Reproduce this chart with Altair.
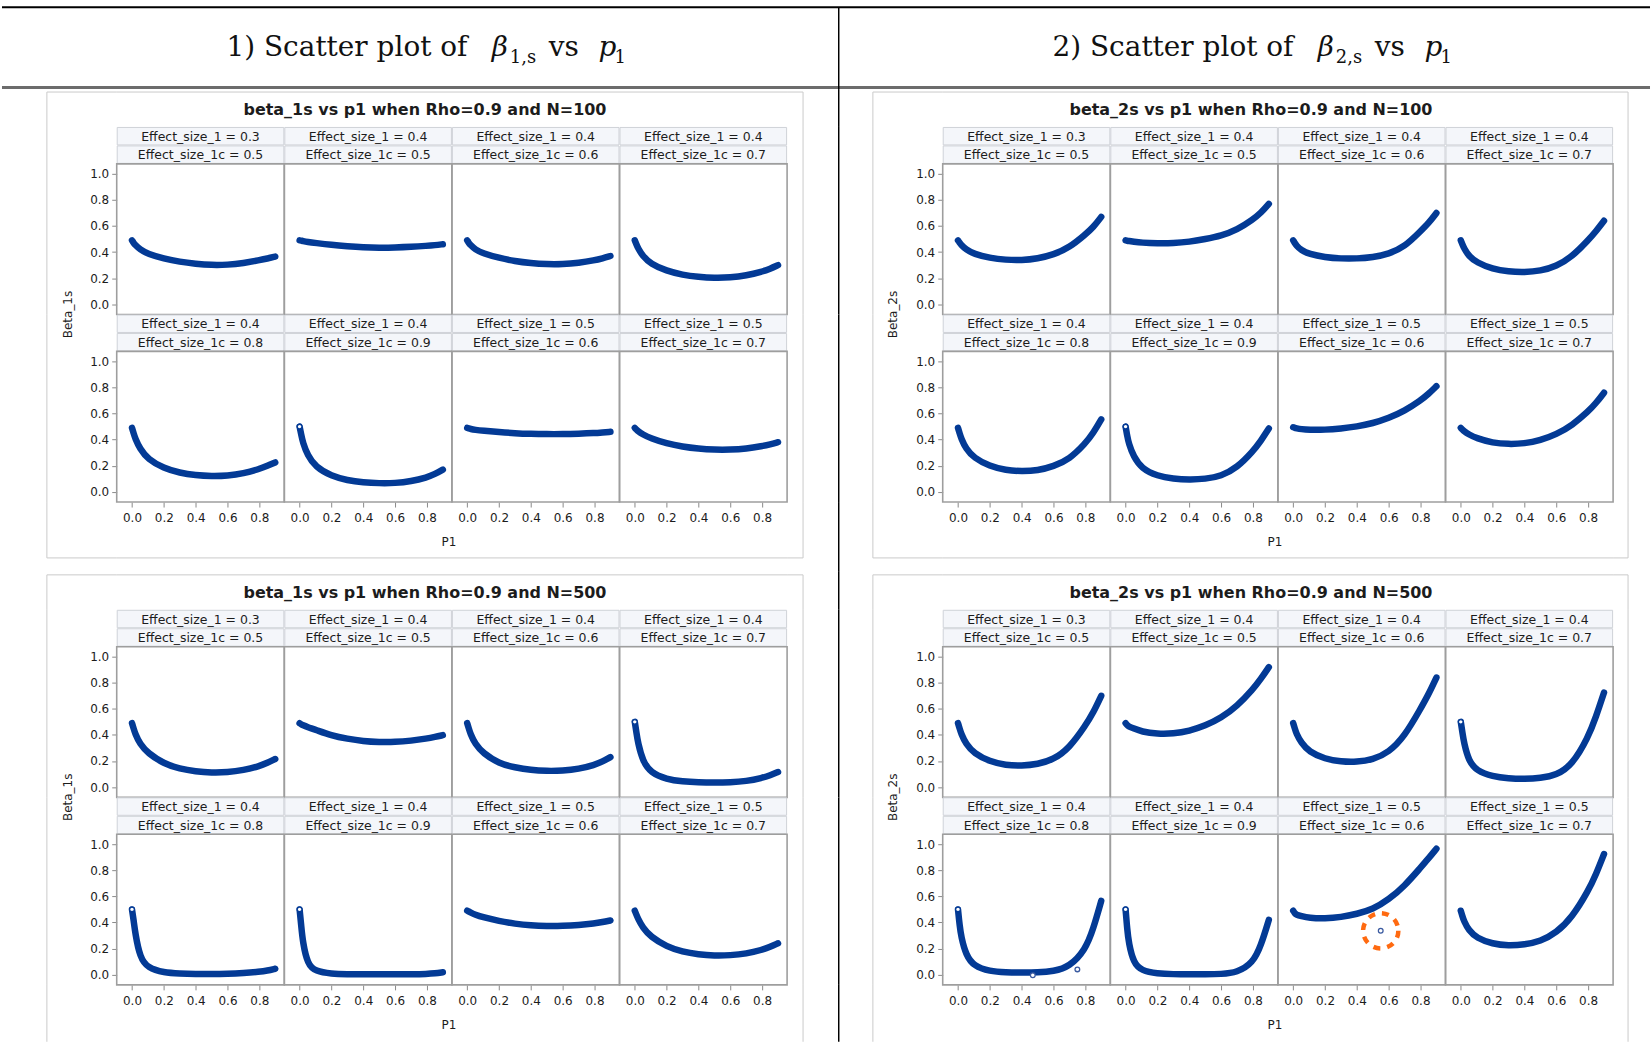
import altair as alt
import pandas as pd

# ---------------- data ----------------
P1_GRID = [0.0, 0.01, 0.02, 0.05, 0.1, 0.2, 0.3, 0.4, 0.5, 0.6, 0.7, 0.8, 0.85, 0.9]
EFFECT_SIZE_1 = [0.3, 0.4, 0.4, 0.4, 0.4, 0.4, 0.5, 0.5]
EFFECT_SIZE_1C = [0.5, 0.5, 0.6, 0.7, 0.8, 0.9, 0.6, 0.7]

BETA_1S_N100 = [
    [0.49, 0.47, 0.455, 0.42, 0.385, 0.35, 0.325, 0.31, 0.30, 0.302, 0.315, 0.338, 0.35, 0.365],
    [0.49, 0.488, 0.485, 0.478, 0.47, 0.455, 0.445, 0.437, 0.433, 0.435, 0.44, 0.448, 0.453, 0.46],
    [0.49, 0.47, 0.455, 0.42, 0.39, 0.355, 0.33, 0.315, 0.307, 0.307, 0.317, 0.337, 0.352, 0.37],
    [0.49, 0.46, 0.43, 0.37, 0.31, 0.255, 0.225, 0.21, 0.202, 0.205, 0.22, 0.25, 0.272, 0.30],
    [0.49, 0.45, 0.41, 0.33, 0.25, 0.18, 0.145, 0.127, 0.12, 0.123, 0.14, 0.175, 0.198, 0.225],
    [0.50, 0.44, 0.38, 0.28, 0.19, 0.12, 0.088, 0.072, 0.065, 0.066, 0.08, 0.11, 0.135, 0.17],
    [0.49, 0.486, 0.482, 0.475, 0.468, 0.458, 0.449, 0.444, 0.442, 0.442, 0.445, 0.45, 0.455, 0.46],
    [0.49, 0.477, 0.465, 0.44, 0.41, 0.37, 0.345, 0.33, 0.322, 0.322, 0.33, 0.35, 0.363, 0.38],
]
BETA_2S_N100 = [
    [0.49, 0.472, 0.455, 0.42, 0.385, 0.355, 0.34, 0.337, 0.35, 0.38, 0.435, 0.535, 0.59, 0.67],
    [0.49, 0.487, 0.485, 0.48, 0.472, 0.467, 0.468, 0.478, 0.50, 0.525, 0.57, 0.65, 0.70, 0.77],
    [0.49, 0.47, 0.45, 0.415, 0.385, 0.36, 0.35, 0.35, 0.36, 0.385, 0.44, 0.56, 0.62, 0.70],
    [0.49, 0.46, 0.43, 0.37, 0.32, 0.27, 0.25, 0.245, 0.255, 0.29, 0.365, 0.49, 0.56, 0.64],
    [0.49, 0.45, 0.41, 0.33, 0.26, 0.195, 0.165, 0.157, 0.163, 0.195, 0.25, 0.37, 0.45, 0.555],
    [0.50, 0.43, 0.37, 0.27, 0.18, 0.12, 0.10, 0.093, 0.098, 0.12, 0.185, 0.31, 0.39, 0.485],
    [0.495, 0.49, 0.487, 0.48, 0.475, 0.475, 0.485, 0.50, 0.525, 0.565, 0.62, 0.70, 0.75, 0.81],
    [0.49, 0.477, 0.465, 0.44, 0.41, 0.375, 0.365, 0.37, 0.395, 0.44, 0.51, 0.615, 0.68, 0.76],
]
BETA_1S_N500 = [
    [0.49, 0.45, 0.41, 0.33, 0.26, 0.18, 0.14, 0.12, 0.11, 0.113, 0.13, 0.16, 0.185, 0.215],
    [0.49, 0.482, 0.475, 0.46, 0.44, 0.395, 0.37, 0.352, 0.345, 0.345, 0.355, 0.372, 0.384, 0.398],
    [0.49, 0.45, 0.41, 0.33, 0.26, 0.18, 0.15, 0.13, 0.123, 0.125, 0.138, 0.17, 0.195, 0.23],
    [0.50, 0.42, 0.34, 0.20, 0.11, 0.06, 0.043, 0.036, 0.034, 0.036, 0.045, 0.07, 0.09, 0.115],
    [0.50, 0.42, 0.32, 0.13, 0.05, 0.015, 0.008, 0.005, 0.004, 0.006, 0.012, 0.022, 0.03, 0.045],
    [0.50, 0.38, 0.25, 0.08, 0.025, 0.006, 0.003, 0.002, 0.002, 0.002, 0.003, 0.005, 0.009, 0.018],
    [0.49, 0.484, 0.478, 0.46, 0.44, 0.41, 0.39, 0.377, 0.372, 0.373, 0.38, 0.393, 0.403, 0.415],
    [0.49, 0.46, 0.43, 0.36, 0.29, 0.215, 0.175, 0.155, 0.145, 0.148, 0.16, 0.19, 0.212, 0.24],
]
BETA_2S_N500 = [
    [0.49, 0.45, 0.41, 0.33, 0.26, 0.195, 0.168, 0.163, 0.175, 0.21, 0.30, 0.47, 0.57, 0.70],
    [0.49, 0.475, 0.465, 0.45, 0.425, 0.408, 0.41, 0.43, 0.47, 0.53, 0.62, 0.75, 0.83, 0.92],
    [0.49, 0.45, 0.41, 0.34, 0.27, 0.215, 0.195, 0.192, 0.21, 0.265, 0.39, 0.60, 0.71, 0.84],
    [0.50, 0.42, 0.34, 0.20, 0.125, 0.08, 0.066, 0.062, 0.068, 0.09, 0.17, 0.38, 0.54, 0.725],
    [0.50, 0.38, 0.29, 0.15, 0.065, 0.025, 0.017, 0.015, 0.016, 0.025, 0.06, 0.19, 0.35, 0.565],
    [0.50, 0.35, 0.24, 0.09, 0.03, 0.008, 0.003, 0.002, 0.002, 0.004, 0.015, 0.09, 0.22, 0.42],
    [0.49, 0.47, 0.46, 0.45, 0.435, 0.43, 0.44, 0.465, 0.50, 0.575, 0.68, 0.82, 0.89, 0.965],
    [0.49, 0.45, 0.41, 0.34, 0.28, 0.235, 0.222, 0.23, 0.255, 0.32, 0.44, 0.64, 0.77, 0.925],
]
PANEL_DATA = {"b1_100": BETA_1S_N100, "b2_100": BETA_2S_N100,
              "b1_500": BETA_1S_N500, "b2_500": BETA_2S_N500}
PANEL_TITLES = {
    "b1_100": "beta_1s vs p1 when Rho=0.9 and N=100",
    "b2_100": "beta_2s vs p1 when Rho=0.9 and N=100",
    "b1_500": "beta_1s vs p1 when Rho=0.9 and N=500",
    "b2_500": "beta_2s vs p1 when Rho=0.9 and N=500",
}
Y_TITLE_LEFT = "Beta_1s"
Y_TITLE_RIGHT = "Beta_2s"
X_TITLE = "P1"
# cells whose first (p1 = 0) marker shows as an open ring
START_MARKER_CELLS = {"b1_100": [5], "b2_100": [5], "b1_500": [3, 4, 5], "b2_500": [3, 4, 5]}
# stray single observations
STRAY_PANEL = ["b2_500", "b2_500", "b2_500"]
STRAY_CELL = [4, 4, 6]
STRAY_P1 = [0.47, 0.75, 0.55]
STRAY_BETA = [-0.005, 0.04, 0.336]
STRAY_CIRCLED = [False, False, True]

X_TICKS = [0.0, 0.2, 0.4, 0.6, 0.8]
Y_TICKS = [0.0, 0.2, 0.4, 0.6, 0.8, 1.0]

# ---------------- style ----------------
SANS = "DejaVu Sans"
SERIF = "DejaVu Serif"
BLUE = "#033a95"
TXT = "#1c1c1c"
TICK = "#8a8a8a"
BOX = "#cacaca"
FRAME = "#9e9e9e"
STRIP_FILL = "#f4f6fa"
STRIP_LINE = "#cfd2d8"
ORANGE = "#ff6a10"

CW, CH = 168, 188
STRIP_H = 18.5
PLOT_TOP = 37
X_DOMAIN = [-0.096, 0.957]
PX_PER_UNIT = 130.7
Y_LO = -10.3 / PX_PER_UNIT
Y_DOMAIN = [Y_LO, Y_LO + CH / PX_PER_UNIT]

HEAD_H = 88
T_H = 38
B_H_TOP = 70
B_H_BOT = 57
BOX_BOTTOM_IN_B = 56
COL_W = [115, CW, CW, CW, CW, 156, CW, CW, CW, CW, 37]
ONE = pd.DataFrame({"k": [0]})


def blank(w, h):
    return alt.Chart(ONE).mark_rule(opacity=0).encode(
        x=alt.value(0), y=alt.value(0), y2=alt.value(1)).properties(width=w, height=h)


def rule(color=BOX, sw=1, **enc):
    return alt.Chart(ONE).mark_rule(color=color, strokeWidth=sw).encode(
        **{k: alt.value(v) for k, v in enc.items()})


def text(txt, x, y, **kw):
    return alt.Chart(ONE).mark_text(text=txt, **kw).encode(x=alt.value(x), y=alt.value(y))


def xy(show_x, show_y):
    xs = alt.Scale(domain=X_DOMAIN, nice=False, zero=False)
    ys = alt.Scale(domain=Y_DOMAIN, nice=False, zero=False)
    if show_x:
        xa = alt.Axis(values=X_TICKS, format=".1f", domain=False, grid=False, tickSize=5,
                      tickColor=TICK, labelFont=SANS, labelFontSize=12, labelColor=TXT,
                      labelPadding=6, labelFlush=False, title=None)
    else:
        xa = None
    if show_y:
        ya = alt.Axis(values=Y_TICKS, format=".1f", domain=False, grid=False, tickSize=5,
                      tickColor=TICK, labelFont=SANS, labelFontSize=12, labelColor=TXT,
                      labelPadding=3, labelFlush=False, title=None)
    else:
        ya = None
    return (alt.X("p1:Q", scale=xs, axis=xa), alt.Y("beta:Q", scale=ys, axis=ya))


def cell(key, idx, show_x, show_y):
    labels = pd.DataFrame({"lab1": [f"Effect_size_1 = {EFFECT_SIZE_1[idx]}"],
                           "lab2": [f"Effect_size_1c = {EFFECT_SIZE_1C[idx]}"]})
    base = alt.Chart(labels)
    layers = []
    for top in (0, STRIP_H):
        layers.append(base.mark_rect(fill=STRIP_FILL, stroke=STRIP_LINE, strokeWidth=1).encode(
            x=alt.value(0.5), x2=alt.value(CW - 0.5), y=alt.value(top + 0.5), y2=alt.value(top + STRIP_H - 0.5)))
    layers.append(base.mark_text(font=SANS, fontSize=12.5, color=TXT, align="center", baseline="middle").encode(
        x=alt.value(CW / 2), y=alt.value(STRIP_H / 2 + 0.5), text="lab1:N"))
    layers.append(base.mark_text(font=SANS, fontSize=12.5, color=TXT, align="center", baseline="middle").encode(
        x=alt.value(CW / 2), y=alt.value(STRIP_H * 1.5 + 0.5), text="lab2:N"))
    layers.append(base.mark_rect(fillOpacity=0, stroke=FRAME, strokeWidth=1.6).encode(
        x=alt.value(0), x2=alt.value(CW), y=alt.value(PLOT_TOP), y2=alt.value(CH)))

    X, Y = xy(show_x, show_y)
    curve = pd.DataFrame({"p1": P1_GRID, "beta": PANEL_DATA[key][idx]})
    layers.append(alt.Chart(curve).mark_line(color=BLUE, strokeWidth=6.5, interpolate="basis",
                                             strokeCap="round", strokeJoin="round").encode(x=X, y=Y))
    if idx in START_MARKER_CELLS[key]:
        start = pd.DataFrame({"p1": [P1_GRID[0]], "beta": [PANEL_DATA[key][idx][0]]})
        layers.append(alt.Chart(start).mark_point(shape="circle", filled=True, fill="white", stroke=BLUE,
                                                  strokeWidth=1.3, size=22, opacity=1).encode(x=X, y=Y))
    sp = [i for i in range(len(STRAY_P1)) if STRAY_PANEL[i] == key and STRAY_CELL[i] == idx]
    if sp:
        stray = pd.DataFrame({"p1": [STRAY_P1[i] for i in sp], "beta": [STRAY_BETA[i] for i in sp],
                              "circ": [STRAY_CIRCLED[i] for i in sp]})
        layers.append(alt.Chart(stray).mark_point(shape="circle", filled=True, fill="white", stroke="#3a5aa0",
                                                  strokeWidth=1.3, size=22, opacity=1).encode(x=X, y=Y))
        layers.append(alt.Chart(stray).transform_filter("datum.circ").mark_point(
            shape="circle", filled=False, stroke=ORANGE, strokeWidth=4.5, size=1250,
            strokeDash=[7, 7], opacity=1).encode(x=X, y=Y))
    return alt.layer(*layers).properties(width=CW, height=CH)


def side(col, kind, top_slot, h):
    """Box edges, divider and y titles in the three narrow columns."""
    if col == 0:
        edges, segs, div, ytitle = [45], [(45, 115)], None, (Y_TITLE_LEFT, 66)
    elif col == 5:
        edges, segs, div, ytitle = [16, 86], [(0, 16), (86, 156)], 51.75, (Y_TITLE_RIGHT, 106)
    else:
        edges, segs, div, ytitle = [15], [(0, 15)], None, None
    y0 = 3 if kind == "T" else 0
    y1 = BOX_BOTTOM_IN_B if (kind == "B" and top_slot) else h
    layers = []
    if div is not None:
        layers.append(rule(color="#000000", sw=1.5, x=div, y=0, y2=h))
    for ex in edges:
        layers.append(rule(x=ex, y=y0, y2=y1))
    if kind == "T":
        for a, b in segs:
            layers.append(rule(x=a, x2=b, y=3))
    if kind == "B" and top_slot:
        for a, b in segs:
            layers.append(rule(x=a, x2=b, y=BOX_BOTTOM_IN_B))
    if kind == "R1" and ytitle is not None:
        layers.append(text(ytitle[0], ytitle[1], CH, angle=270, font=SANS, fontSize=12, color=TXT,
                           align="center", baseline="middle"))
    return alt.layer(*layers).properties(width=COL_W[col], height=h)


def title_band(key):
    return alt.layer(
        rule(x=0, x2=4 * CW, y=3),
        text(PANEL_TITLES[key], 309, 21, font=SANS, fontSize=16, fontWeight="bold", color=TXT,
             align="center", baseline="middle"),
    ).properties(width=CW, height=T_H)


def bottom_band(top_slot, h):
    layers = [text(X_TITLE, 333, 40, font=SANS, fontSize=12, color=TXT, align="center", baseline="middle")]
    if top_slot:
        layers.append(rule(x=0, x2=4 * CW, y=BOX_BOTTOM_IN_B))
    return alt.layer(*layers).properties(width=CW, height=h)


def header():
    layers = [
        rule(color="#000000", sw=2, x=0, x2=1652, y=6),
        rule(color="#6c6c6c", sw=3, x=0, x2=1652, y=86.5),
        rule(color="#000000", sw=1.5, x=838.75, y=6, y2=HEAD_H),
    ]
    for off, num in ((0, "1"), (828, "2")):
        pieces = [
            (f"{num}) Scatter plot of", 225, "normal", 28, 55),
            ("\u03b2", 491, "italic", 28, 55),
            (f"{num},s", 509, "normal", 18, 62),
            ("vs", 548, "normal", 28, 55),
            ("p", 598, "italic", 28, 55),
            ("1", 614, "normal", 18, 62),
        ]
        for txt, x, style, size, y in pieces:
            layers.append(text(txt, x + off, y, font=SERIF, fontSize=size, fontStyle=style,
                               color="#111111", align="left", baseline="alphabetic"))
    return alt.layer(*layers).properties(width=COL_W[0], height=HEAD_H)


grid = [header()] + [blank(COL_W[c], HEAD_H) for c in range(1, 11)]
for top_slot, lkey, rkey in ((True, "b1_100", "b2_100"), (False, "b1_500", "b2_500")):
    b_h = B_H_TOP if top_slot else B_H_BOT
    for kind, h in (("T", T_H), ("R1", CH), ("R2", CH), ("B", b_h)):
        row = []
        for c in range(11):
            if c in (0, 5, 10):
                row.append(side(c, kind, top_slot, h))
                continue
            key = lkey if c < 5 else rkey
            j = c - 1 if c < 5 else c - 6
            if kind == "T":
                row.append(title_band(key) if j == 0 else blank(CW, h))
            elif kind == "B":
                row.append(bottom_band(top_slot, h) if j == 0 else blank(CW, h))
            else:
                r = 0 if kind == "R1" else 1
                row.append(cell(key, r * 4 + j, show_x=(r == 1), show_y=(j == 0)))
        grid.extend(row)

chart = alt.concat(*grid, columns=11, spacing=0, bounds="flush").properties(
    padding=0, background="white"
).configure_view(strokeWidth=0)

chart.save("out.html", embed_options={"renderer": "svg", "actions": False})
